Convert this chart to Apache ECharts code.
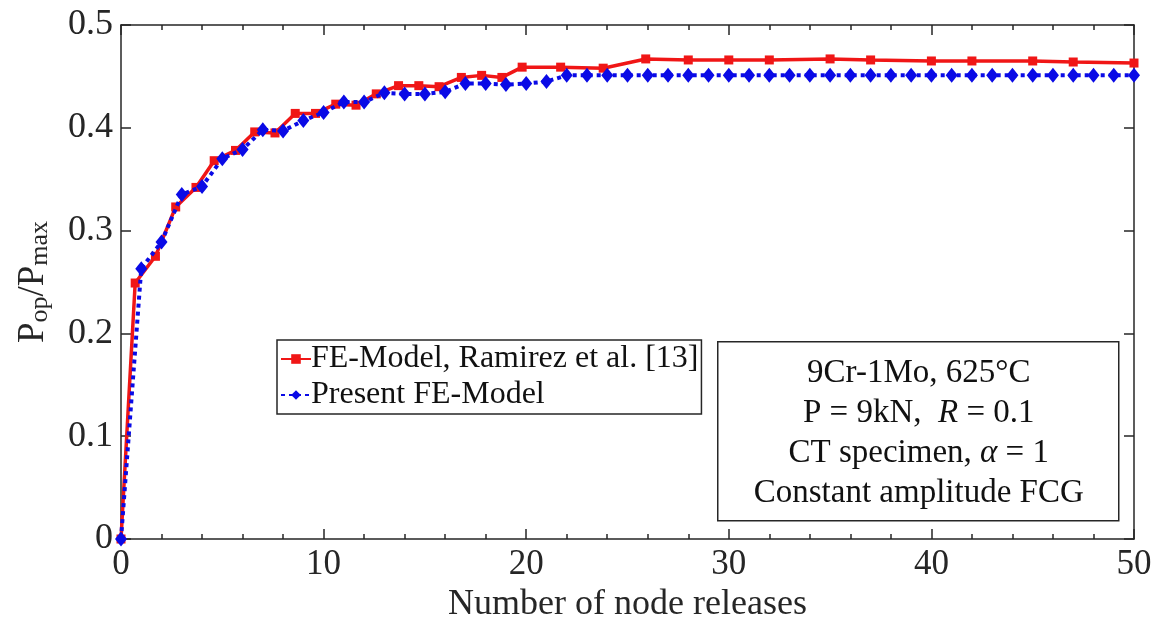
<!DOCTYPE html>
<html>
<head>
<meta charset="utf-8">
<script src="https://cdn.jsdelivr.net/npm/echarts@6/dist/echarts.min.js"></script>
<style>
  html, body { margin: 0; padding: 0; background: #fff; }
  #chart { width: 1159px; height: 628px; }
</style>
</head>
<body>
<div id="chart"></div>
<script>
// Opening-load ratio versus number of node releases
const ramirezX = [0, 0.7, 1.7, 2.7, 3.7, 4.6, 5.65, 6.6, 7.6, 8.6, 9.6, 10.6, 11.6, 12.6, 13.7,
  14.7, 15.7, 16.8, 17.8, 18.8, 19.8, 21.7, 23.8, 25.9, 28, 30, 32, 35, 37, 40, 42, 45, 47, 50];
const ramirezY = [0, 0.249, 0.275, 0.323, 0.342, 0.368, 0.378, 0.396, 0.395, 0.414, 0.414, 0.423,
  0.422, 0.433, 0.441, 0.441, 0.440, 0.449, 0.451, 0.449, 0.459, 0.459, 0.458, 0.467, 0.466,
  0.466, 0.466, 0.467, 0.466, 0.465, 0.465, 0.465, 0.464, 0.463];

const presentX = [0, 1, 2, 3, 4, 5, 6, 7, 8, 9, 10, 11, 12, 13, 14, 15, 16, 17, 18, 19, 20,
  21, 22, 23, 24, 25, 26, 27, 28, 29, 30, 31, 32, 33, 34, 35, 36, 37, 38, 39, 40,
  41, 42, 43, 44, 45, 46, 47, 48, 49, 50];
const presentY = [0, 0.263, 0.289, 0.335, 0.343, 0.370, 0.379, 0.398, 0.397, 0.407, 0.415,
  0.425, 0.425, 0.434, 0.433, 0.433, 0.435, 0.443, 0.443, 0.442, 0.443,
  0.445, 0.451, 0.451, 0.451, 0.451, 0.451, 0.451, 0.451, 0.451, 0.451,
  0.451, 0.451, 0.451, 0.451, 0.451, 0.451, 0.451, 0.451, 0.451, 0.451,
  0.451, 0.451, 0.451, 0.451, 0.451, 0.451, 0.451, 0.451, 0.451, 0.451];

const seriesNames = ['FE-Model, Ramirez et al. [13]', 'Present FE-Model'];
const xTitle = 'Number of node releases';
const infoLines = ['9Cr-1Mo, 625°C', 'P = 9kN,  {i|R} = 0.1', 'CT specimen, {i|α} = 1', 'Constant amplitude FCG'];

const FONT = 'Liberation Serif, Times New Roman, serif';
const INK = '#262626';
const RED = '#f01616';
const BLUE = '#0a0ae6';

const pairs = (xs, ys) => xs.map((x, i) => [x, ys[i]]);

// shared box-style axis: line + inward ticks, never pinned to the zero of the other axis
const tickCommon = () => ({
  axisLine: { show: true, onZero: false, lineStyle: { color: INK, width: 1.5 } },
  axisTick: { show: true, inside: true, length: 10, lineStyle: { color: INK, width: 1.5 } },
  splitLine: { show: false }
});
const minor = { show: true, splitNumber: 5, length: 5, lineStyle: { color: INK, width: 1.5 } };

const chart = echarts.init(document.getElementById('chart'), null, { renderer: 'canvas' });

chart.setOption({
  backgroundColor: '#fff',
  animation: false,
  grid: { left: 118, right: 25, top: 25, bottom: 89 },
  xAxis: [
    Object.assign({
      type: 'value', min: 0, max: 50, interval: 10, position: 'bottom',
      name: xTitle, nameLocation: 'middle', nameGap: 48,
      nameTextStyle: { fontFamily: FONT, fontSize: 36, color: INK },
      axisLabel: { fontFamily: FONT, fontSize: 35, color: INK, margin: 8 },
      minorTick: minor
    }, tickCommon()),
    Object.assign({
      type: 'value', min: 0, max: 50, interval: 10, position: 'top',
      axisLabel: { show: false },
      minorTick: minor
    }, tickCommon())
  ],
  yAxis: [
    Object.assign({
      type: 'value', min: 0, max: 0.5, interval: 0.1, position: 'left',
      name: '{m|P}{s|op}{m|/P}{s|max}', nameLocation: 'middle', nameGap: 68, nameRotate: 90,
      nameTextStyle: {
        color: INK,
        rich: {
          m: { fontFamily: FONT, fontSize: 37, lineHeight: 38, verticalAlign: 'top', color: INK },
          s: { fontFamily: FONT, fontSize: 26, lineHeight: 26, verticalAlign: 'bottom', padding: [19, 0, 0, 0], color: INK }
        }
      },
      axisLabel: {
        fontFamily: FONT, fontSize: 36, color: INK, margin: 8,
        formatter: v => (v === 0 ? '0' : v.toFixed(1))
      }
    }, tickCommon()),
    Object.assign({
      type: 'value', min: 0, max: 0.5, interval: 0.1, position: 'right',
      axisLabel: { show: false }
    }, tickCommon())
  ],
  legend: {
    orient: 'vertical',
    left: 277, top: 340,
    backgroundColor: '#fff',
    borderColor: INK, borderWidth: 1.5, borderRadius: 0,
    padding: [3, 3, 3, 3],
    itemGap: 4, itemWidth: 30, itemHeight: 12,
    textStyle: { fontFamily: FONT, fontSize: 32, color: '#111', padding: [0, 0, 0, -5] },
    data: seriesNames
  },
  series: [
    {
      name: seriesNames[0], type: 'line', xAxisIndex: 0, yAxisIndex: 0,
      data: pairs(ramirezX, ramirezY),
      symbol: 'rect', symbolSize: 9, showSymbol: true,
      lineStyle: { color: RED, width: 3.5 },
      itemStyle: { color: RED },
      z: 2
    },
    {
      name: seriesNames[1], type: 'line', xAxisIndex: 0, yAxisIndex: 0,
      data: pairs(presentX, presentY),
      symbol: 'diamond', symbolSize: [12, 15], showSymbol: true,
      lineStyle: { color: BLUE, width: 4, type: [4, 4] },
      itemStyle: { color: BLUE },
      z: 3
    }
  ],
  graphic: [
    {
      type: 'group', left: 717, top: 341, z: 10,
      children: [
        { type: 'rect', shape: { x: 0, y: 0, width: 401, height: 179 },
          style: { fill: '#fff', stroke: INK, lineWidth: 1.5 } }
      ].concat(infoLines.map((t, i) => ({
        type: 'text', x: 201, y: 32 + i * 40,
        style: {
          text: t, fill: '#111', font: '33px ' + FONT,
          textAlign: 'center', textVerticalAlign: 'middle',
          rich: { i: { fontFamily: FONT, fontSize: 33, fontStyle: 'italic', fill: '#111' } }
        }
      })))
    }
  ]
});
</script>
</body>
</html>
